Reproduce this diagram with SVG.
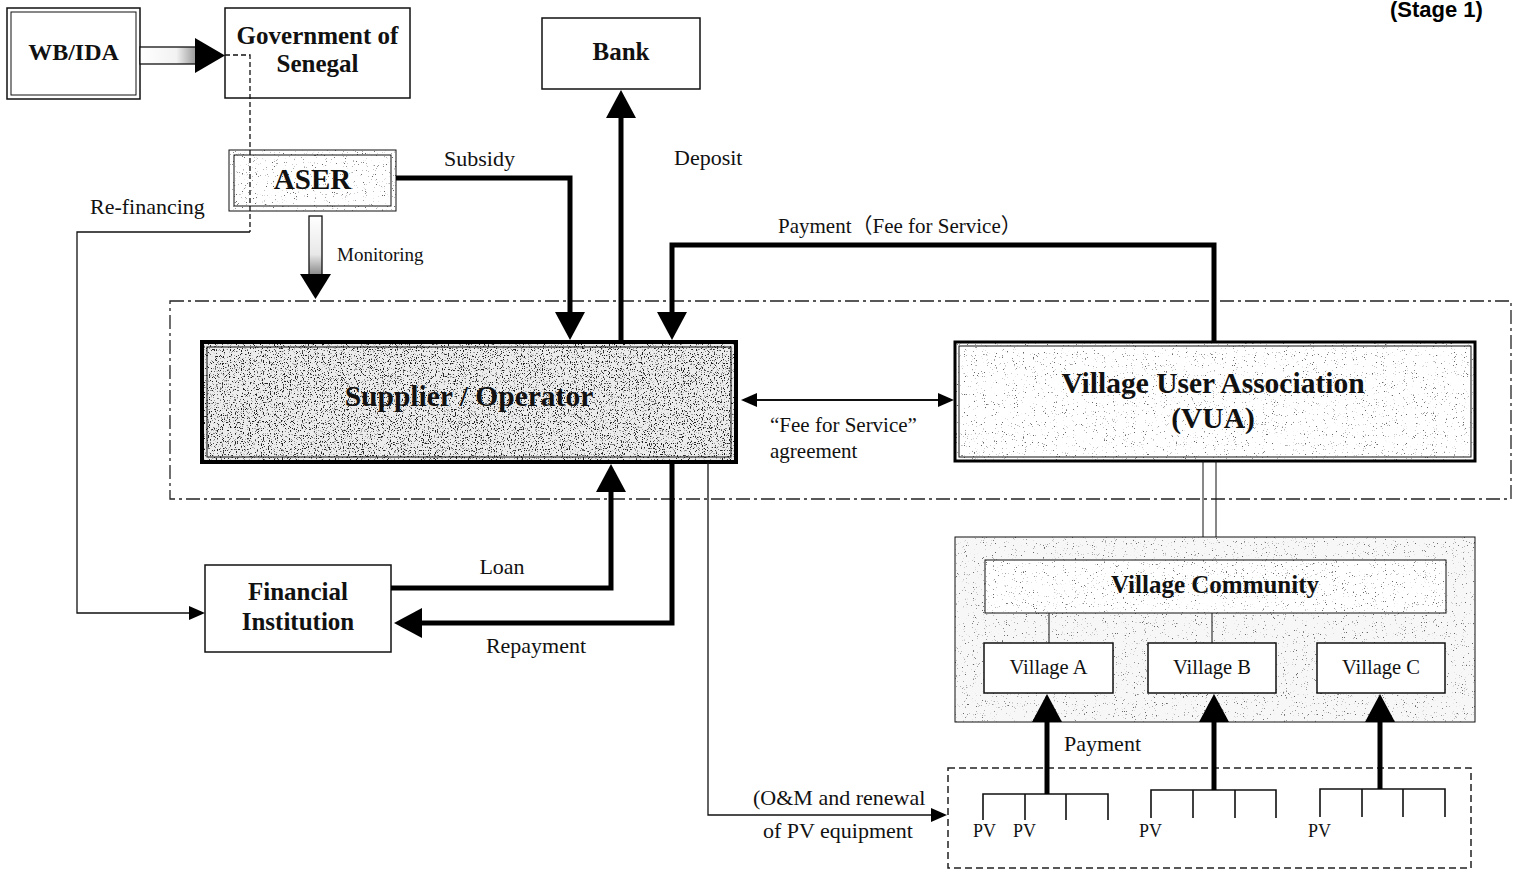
<svg xmlns="http://www.w3.org/2000/svg" width="1517" height="874" viewBox="0 0 1517 874">
  <style>
    .box { fill: #fff; stroke: #111; stroke-width: 1.5; }
    .thin { fill: none; stroke: #111; stroke-width: 1; }
    .t { font-family: "Liberation Serif", "Times New Roman", serif; fill: #111; }
    .b { font-weight: bold; }
    .lbl { font-size: 22px; }
    .mid { text-anchor: middle; }
    .thick { fill: none; stroke: #000; stroke-width: 5; marker-end: url(#headBig); }
    .line { fill: none; stroke: #111; stroke-width: 1.3; }
    .dashdot { fill: none; stroke: #222; stroke-width: 1.3; stroke-dasharray: 14 4 3 4; }
  </style>
  <defs>
    <marker id="headBig" markerUnits="userSpaceOnUse" markerWidth="28" markerHeight="30" viewBox="0 0 28 30" refX="1" refY="15" orient="auto">
      <path d="M0,0 L28,15 L0,30 Z" fill="#000"/>
    </marker>
    <marker id="headSmall" markerUnits="userSpaceOnUse" markerWidth="16" markerHeight="14" viewBox="0 0 16 14" refX="1" refY="7" orient="auto-start-reverse">
      <path d="M0,0 L16,7 L0,14 Z" fill="#000"/>
    </marker>
    <linearGradient id="shaftH" x1="0" y1="0" x2="1" y2="0">
      <stop offset="0" stop-color="#fff"/>
      <stop offset="0.65" stop-color="#f2f2f2"/>
      <stop offset="1" stop-color="#999"/>
    </linearGradient>
    <linearGradient id="shaftV" x1="0" y1="0" x2="0" y2="1">
      <stop offset="0" stop-color="#fff"/>
      <stop offset="0.65" stop-color="#e8e8e8"/>
      <stop offset="1" stop-color="#888"/>
    </linearGradient>
    <!-- speckled print texture for shaded boxes -->
    <filter id="grainDark" x="0" y="0" width="100%" height="100%" color-interpolation-filters="sRGB">
      <feTurbulence type="fractalNoise" baseFrequency="0.85" numOctaves="2" seed="4" result="noise"/>
      <feColorMatrix in="noise" type="matrix" values="0 0 0 0 0.12  0 0 0 0 0.12  0 0 0 0 0.12  9 0 0 0 -5.2" result="specks"/>
      <feComposite in="specks" in2="SourceGraphic" operator="in" result="clip"/>
      <feMerge><feMergeNode in="SourceGraphic"/><feMergeNode in="clip"/></feMerge>
    </filter>
    <filter id="grainLight" x="0" y="0" width="100%" height="100%" color-interpolation-filters="sRGB">
      <feTurbulence type="fractalNoise" baseFrequency="0.9" numOctaves="2" seed="9" result="noise"/>
      <feColorMatrix in="noise" type="matrix" values="0 0 0 0 0.4  0 0 0 0 0.4  0 0 0 0 0.4  9 0 0 0 -6.1" result="specks"/>
      <feComposite in="specks" in2="SourceGraphic" operator="in" result="clip"/>
      <feMerge><feMergeNode in="SourceGraphic"/><feMergeNode in="clip"/></feMerge>
    </filter>
  </defs>

  <rect width="1517" height="874" fill="#fff"/>

  <!-- stage caption -->
  <text x="1390" y="17" font-family="Liberation Sans, Arial, sans-serif" font-weight="bold" font-size="22" fill="#000">(Stage 1)</text>

  <!-- operating zone boundary -->
  <rect class="dashdot" x="170" y="301" width="1341" height="198"/>

  <!-- PV installations zone -->
  <rect x="948" y="768" width="523" height="100" fill="none" stroke="#222" stroke-width="1.5" stroke-dasharray="7 4"/>

  <g id="wb-ida">
    <rect class="box" x="7" y="8" width="133" height="91" stroke-width="2"/>
    <rect class="thin" x="11" y="12" width="125" height="83"/>
    <text class="t b mid" x="73.5" y="60" font-size="24">WB/IDA</text>
  </g>

  <g id="government">
    <rect class="box" x="225" y="8" width="185" height="90"/>
    <text class="t b mid" x="317.5" y="44" font-size="25">Government of</text>
    <text class="t b mid" x="317.5" y="72" font-size="25">Senegal</text>
  </g>

  <g id="aser">
    <rect x="229" y="150" width="167" height="61" fill="#fff" filter="url(#grainLight)"/>
    <rect class="thin" x="229" y="150" width="167" height="61" stroke-width="2"/>
    <rect class="thin" x="234" y="155" width="157" height="51"/>
    <text class="t b mid" x="312.5" y="189" font-size="29">ASER</text>
  </g>

  <g id="bank">
    <rect class="box" x="542" y="18" width="158" height="71"/>
    <text class="t b mid" x="621" y="60" font-size="25">Bank</text>
  </g>

  <g id="supplier">
    <rect x="202" y="342" width="534" height="120" fill="#ececec" filter="url(#grainDark)"/>
    <rect x="202" y="342" width="534" height="120" fill="none" stroke="#000" stroke-width="4"/>
    <rect class="thin" x="207" y="347" width="524" height="110"/>
    <text class="t b mid" x="469" y="406" font-size="29.5">Supplier / Operator</text>
  </g>

  <g id="vua">
    <rect x="955" y="342" width="520" height="119" fill="#fff" filter="url(#grainLight)"/>
    <rect x="955" y="342" width="520" height="119" fill="none" stroke="#000" stroke-width="3"/>
    <rect class="thin" x="959" y="346" width="512" height="111"/>
    <text class="t b mid" x="1213" y="393" font-size="29.5">Village User Association</text>
    <text class="t b mid" x="1213" y="428" font-size="29.5">(VUA)</text>
  </g>

  <g id="financial-institution">
    <rect class="box" x="205" y="565" width="186" height="87"/>
    <text class="t b mid" x="298" y="600" font-size="25">Financial</text>
    <text class="t b mid" x="298" y="630" font-size="25">Institution</text>
  </g>

  <g id="village-area">
    <rect x="955" y="537" width="520" height="185" fill="#f7f7f7" filter="url(#grainLight)"/>
    <rect class="thin" x="955" y="537" width="520" height="185" stroke-width="1.3"/>
  </g>

  <g id="village-community">
    <rect x="985" y="560" width="461" height="53" fill="#fff" filter="url(#grainLight)"/>
    <rect class="thin" x="985" y="560" width="461" height="53" stroke-width="1.3"/>
    <text class="t b mid" x="1215" y="593" font-size="25">Village Community</text>
  </g>

  <g id="village-a">
    <rect class="box" x="984" y="643" width="129" height="50" stroke-width="1.3"/>
    <text class="t mid" x="1048.5" y="674" font-size="20.5">Village A</text>
  </g>
  <g id="village-b">
    <rect class="box" x="1148" y="643" width="128" height="50" stroke-width="1.3"/>
    <text class="t mid" x="1212" y="674" font-size="20.5">Village B</text>
  </g>
  <g id="village-c">
    <rect class="box" x="1317" y="643" width="128" height="50" stroke-width="1.3"/>
    <text class="t mid" x="1381" y="674" font-size="20.5">Village C</text>
  </g>

  <g id="pv-systems" fill="none" stroke="#111" stroke-width="1.6">
    <path d="M983,820 V794 H1108 V820 M1025,794 V820 M1066,794 V820"/>
    <path d="M1151,818 V790 H1276 V818 M1193,790 V818 M1235,790 V818"/>
    <path d="M1320,817 V789 H1445 V817 M1362,789 V817 M1403,789 V817"/>
  </g>
  <g id="pv-labels" class="t" font-size="18">
    <text x="973" y="837">PV</text>
    <text x="1013" y="837">PV</text>
    <text x="1139" y="837">PV</text>
    <text x="1308" y="837">PV</text>
  </g>

  <g id="connectors">
    <!-- WB/IDA funds to government -->
    <rect x="140" y="47" width="56" height="17" fill="url(#shaftH)" stroke="#111" stroke-width="1.3"/>
    <path d="M195,38 L225,55.5 L195,73 Z" fill="#000"/>

    <!-- re-financing route -->
    <path class="line" d="M225,55 H250 V232" stroke-dasharray="5 3"/>
    <path class="line" d="M250,232 H77 V613 H190" marker-end="url(#headSmall)"/>

    <!-- monitoring -->
    <rect x="309" y="216" width="13" height="59" fill="url(#shaftV)" stroke="#111" stroke-width="1.3"/>
    <path d="M300,274 L331,274 L315.5,299 Z" fill="#000"/>

    <!-- subsidy, deposit, payment -->
    <path class="thick" d="M396,178 H570 V313"/>
    <path class="thick" d="M621,342 V117"/>
    <path class="thick" d="M1214,341 V245 H672 V313"/>

    <!-- loan / repayment -->
    <path class="thick" d="M391,588 H611 V491"/>
    <path class="thick" d="M672,462 V623 H421"/>

    <!-- fee for service agreement -->
    <path d="M756,400 H939" fill="none" stroke="#111" stroke-width="2" marker-start="url(#headSmall)" marker-end="url(#headSmall)"/>

    <!-- O&M and renewal -->
    <path class="line" d="M708,462 V815 H932" marker-end="url(#headSmall)"/>

    <!-- VUA to village area -->
    <path class="thin" d="M1203,461 V537 M1216,461 V537" stroke-width="1.3"/>

    <!-- village community to villages -->
    <path class="thin" d="M1049,613 V643 M1212,613 V643"/>

    <!-- user payments to villages -->
    <path class="thick" d="M1047,794 V721"/>
    <path class="thick" d="M1214,790 V721"/>
    <path class="thick" d="M1380,789 V721"/>
  </g>

  <g id="labels" class="t lbl">
    <text x="444" y="166">Subsidy</text>
    <text x="674" y="165">Deposit</text>
    <text x="778" y="233" font-size="21" font-family="Liberation Serif, Noto Sans CJK JP, serif">Payment（Fee for Service）</text>
    <text x="90" y="214">Re-financing</text>
    <text x="337" y="261" font-size="19">Monitoring</text>
    <text x="770" y="432" font-size="21">“Fee for Service”</text>
    <text x="770" y="458" font-size="21">agreement</text>
    <text class="mid" x="502" y="574">Loan</text>
    <text class="mid" x="536" y="653">Repayment</text>
    <text x="753" y="805">(O&amp;M and renewal</text>
    <text x="763" y="838">of PV equipment</text>
    <text x="1064" y="751">Payment</text>
  </g>
</svg>
